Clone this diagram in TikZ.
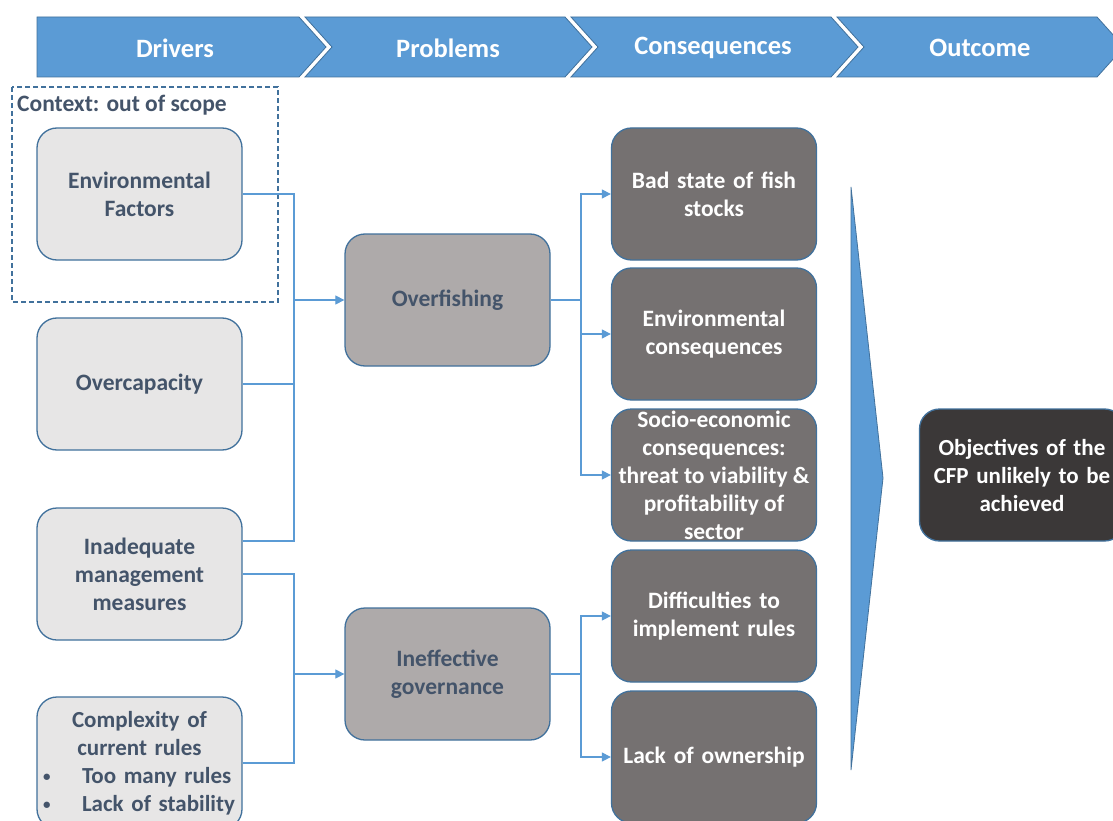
\documentclass[tikz,border=0pt]{standalone}
\usepackage{fontspec}
\setmainfont{Carlito}
\usetikzlibrary{arrows.meta}
\definecolor{hdr}{HTML}{5B9BD5}
\definecolor{hdrb}{HTML}{41719C}
\definecolor{txt}{HTML}{44546A}
\definecolor{lite}{HTML}{E7E6E6}
\definecolor{midg}{HTML}{AEAAAA}
\definecolor{dkg}{HTML}{757171}
\definecolor{dkr}{HTML}{3B3838}
\newcommand{\smbullet}{\raisebox{1.5pt}{\fontsize{15}{15}\selectfont\textbullet}}
\begin{document}
\begin{tikzpicture}[x=1pt,y=-1pt,
  box/.style={draw=hdrb, line width=1.3pt, rounded corners=20pt, minimum width=205pt,
    minimum height=132pt, align=center, inner sep=0pt, text width=203pt,
    font=\bfseries\fontsize{23.5}{28}\selectfont},
  drv/.style={box, fill=lite, text=txt},
  prb/.style={box, fill=midg, text=txt},
  csq/.style={box, fill=dkg, text=white},
  hdrtext/.style={text=white, font=\bfseries\fontsize{26.5}{30}\selectfont},
  conn/.style={draw=hdr, line width=1.2pt},
  arr/.style={conn, -{Triangle[length=9pt,width=9pt]}}
]
\useasboundingbox (0,0) rectangle (1113,821);
\fill[white] (0,0) rectangle (1113,821);

% header chevrons
\foreach \L/\R [count=\i] in {37/303, 303/569, 569/835, 835/1101}{
  \ifnum\i=1
    \draw[fill=hdr, draw=hdrb, line width=0.8pt]
      (\L,17) -- (\R-4,17) -- (\R+23,47) -- (\R-4,77) -- (\L,77) -- cycle;
  \else
    \draw[fill=hdr, draw=hdrb, line width=0.8pt]
      (\L+2,17) -- (\R-4,17) -- (\R+23,47) -- (\R-4,77) -- (\L+2,77) -- (\L+29,47) -- cycle;
  \fi
}
\node[hdrtext] (hdrivers) at (175,48) {Drivers};
\node[hdrtext] (hproblems) at (448,48) {Problems};
\node[hdrtext] (hconseq) at (713,48) {Consequences};
\node[hdrtext] (houtcome) at (980,48) {Outcome};

% context box
\draw[hdrb, dashed, dash pattern=on 5pt off 3pt, line width=1.2pt] (12,87) rectangle (278,302);
\node[anchor=west, text=txt, font=\bfseries\fontsize{23.5}{28}\selectfont, inner sep=0pt] (ctx) at (17,105) {Context: out of scope};

% drivers
\node[drv] (env) at (139.5,194) {Environmental\\Factors};
\node[drv] (overcap) at (139.5,384) {Overcapacity};
\node[drv] (inad) at (139.5,574) {Inadequate\\management\\measures};
\node[drv, font=\bfseries\fontsize{23}{28}\selectfont] (cplx) at (139.5,763) {Complexity of\\current rules\\
  \makebox[203pt][l]{\hspace{5pt}\makebox[39pt][l]{\smbullet}Too many rules}\\
  \makebox[203pt][l]{\hspace{5pt}\makebox[39pt][l]{\smbullet}Lack of stability}};

% problems
\node[prb] (overfish) at (447.5,300) {Overfishing};
\node[prb] (ineff) at (447.5,674) {Ineffective\\governance};

% consequences
\node[csq] (bad) at (714,194) {Bad state of fish\\stocks};
\node[csq] (envc) at (714,334) {Environmental\\consequences};
\node[csq] (socio) at (714,475) {};
\node[text=white, align=center, font=\bfseries\fontsize{23.5}{28}\selectfont, inner sep=0pt] (sociot) at (714,475)
  {Socio-economic\\consequences:\\threat to viability \&\\profitability of\\sector};
\node[csq] (diff) at (714,616) {Difficulties to\\implement rules};
\node[csq] (lack) at (714,757) {Lack of ownership};

% big arrow
\draw[fill=hdr, draw=hdrb, line width=0.8pt] (851,187) -- (883,478) -- (851,770) -- cycle;

% outcome
\node[box, fill=dkr, text=white, font=\bfseries\fontsize{23}{28}\selectfont] (obj) at (1022,475) {Objectives of the\\CFP unlikely to be\\achieved};

% connectors: drivers -> overfishing
\coordinate (j1) at (294,300);
\draw[conn] (env.east) -| (j1);
\draw[conn] (overcap.east) -| (j1);
\draw[conn] ([yshift=33pt]inad.east) -| (j1);
\draw[arr] (j1) -- (overfish.west);

% drivers -> ineffective governance
\coordinate (j2) at (294,674);
\draw[conn] (inad.east) -| (j2);
\draw[conn] (cplx.east) -| (j2);
\draw[arr] (j2) -- (ineff.west);

% overfishing -> consequences
\coordinate (k1) at (581,300);
\draw[conn] (overfish.east) -- (k1);
\draw[arr] (k1) |- (bad.west);
\draw[arr] (k1) |- (envc.west);
\draw[arr] (k1) |- (socio.west);

% ineffective governance -> consequences
\coordinate (k2) at (581,674);
\draw[conn] (ineff.east) -- (k2);
\draw[arr] (k2) |- (diff.west);
\draw[arr] (k2) |- (lack.west);
\end{tikzpicture}
\end{document}
